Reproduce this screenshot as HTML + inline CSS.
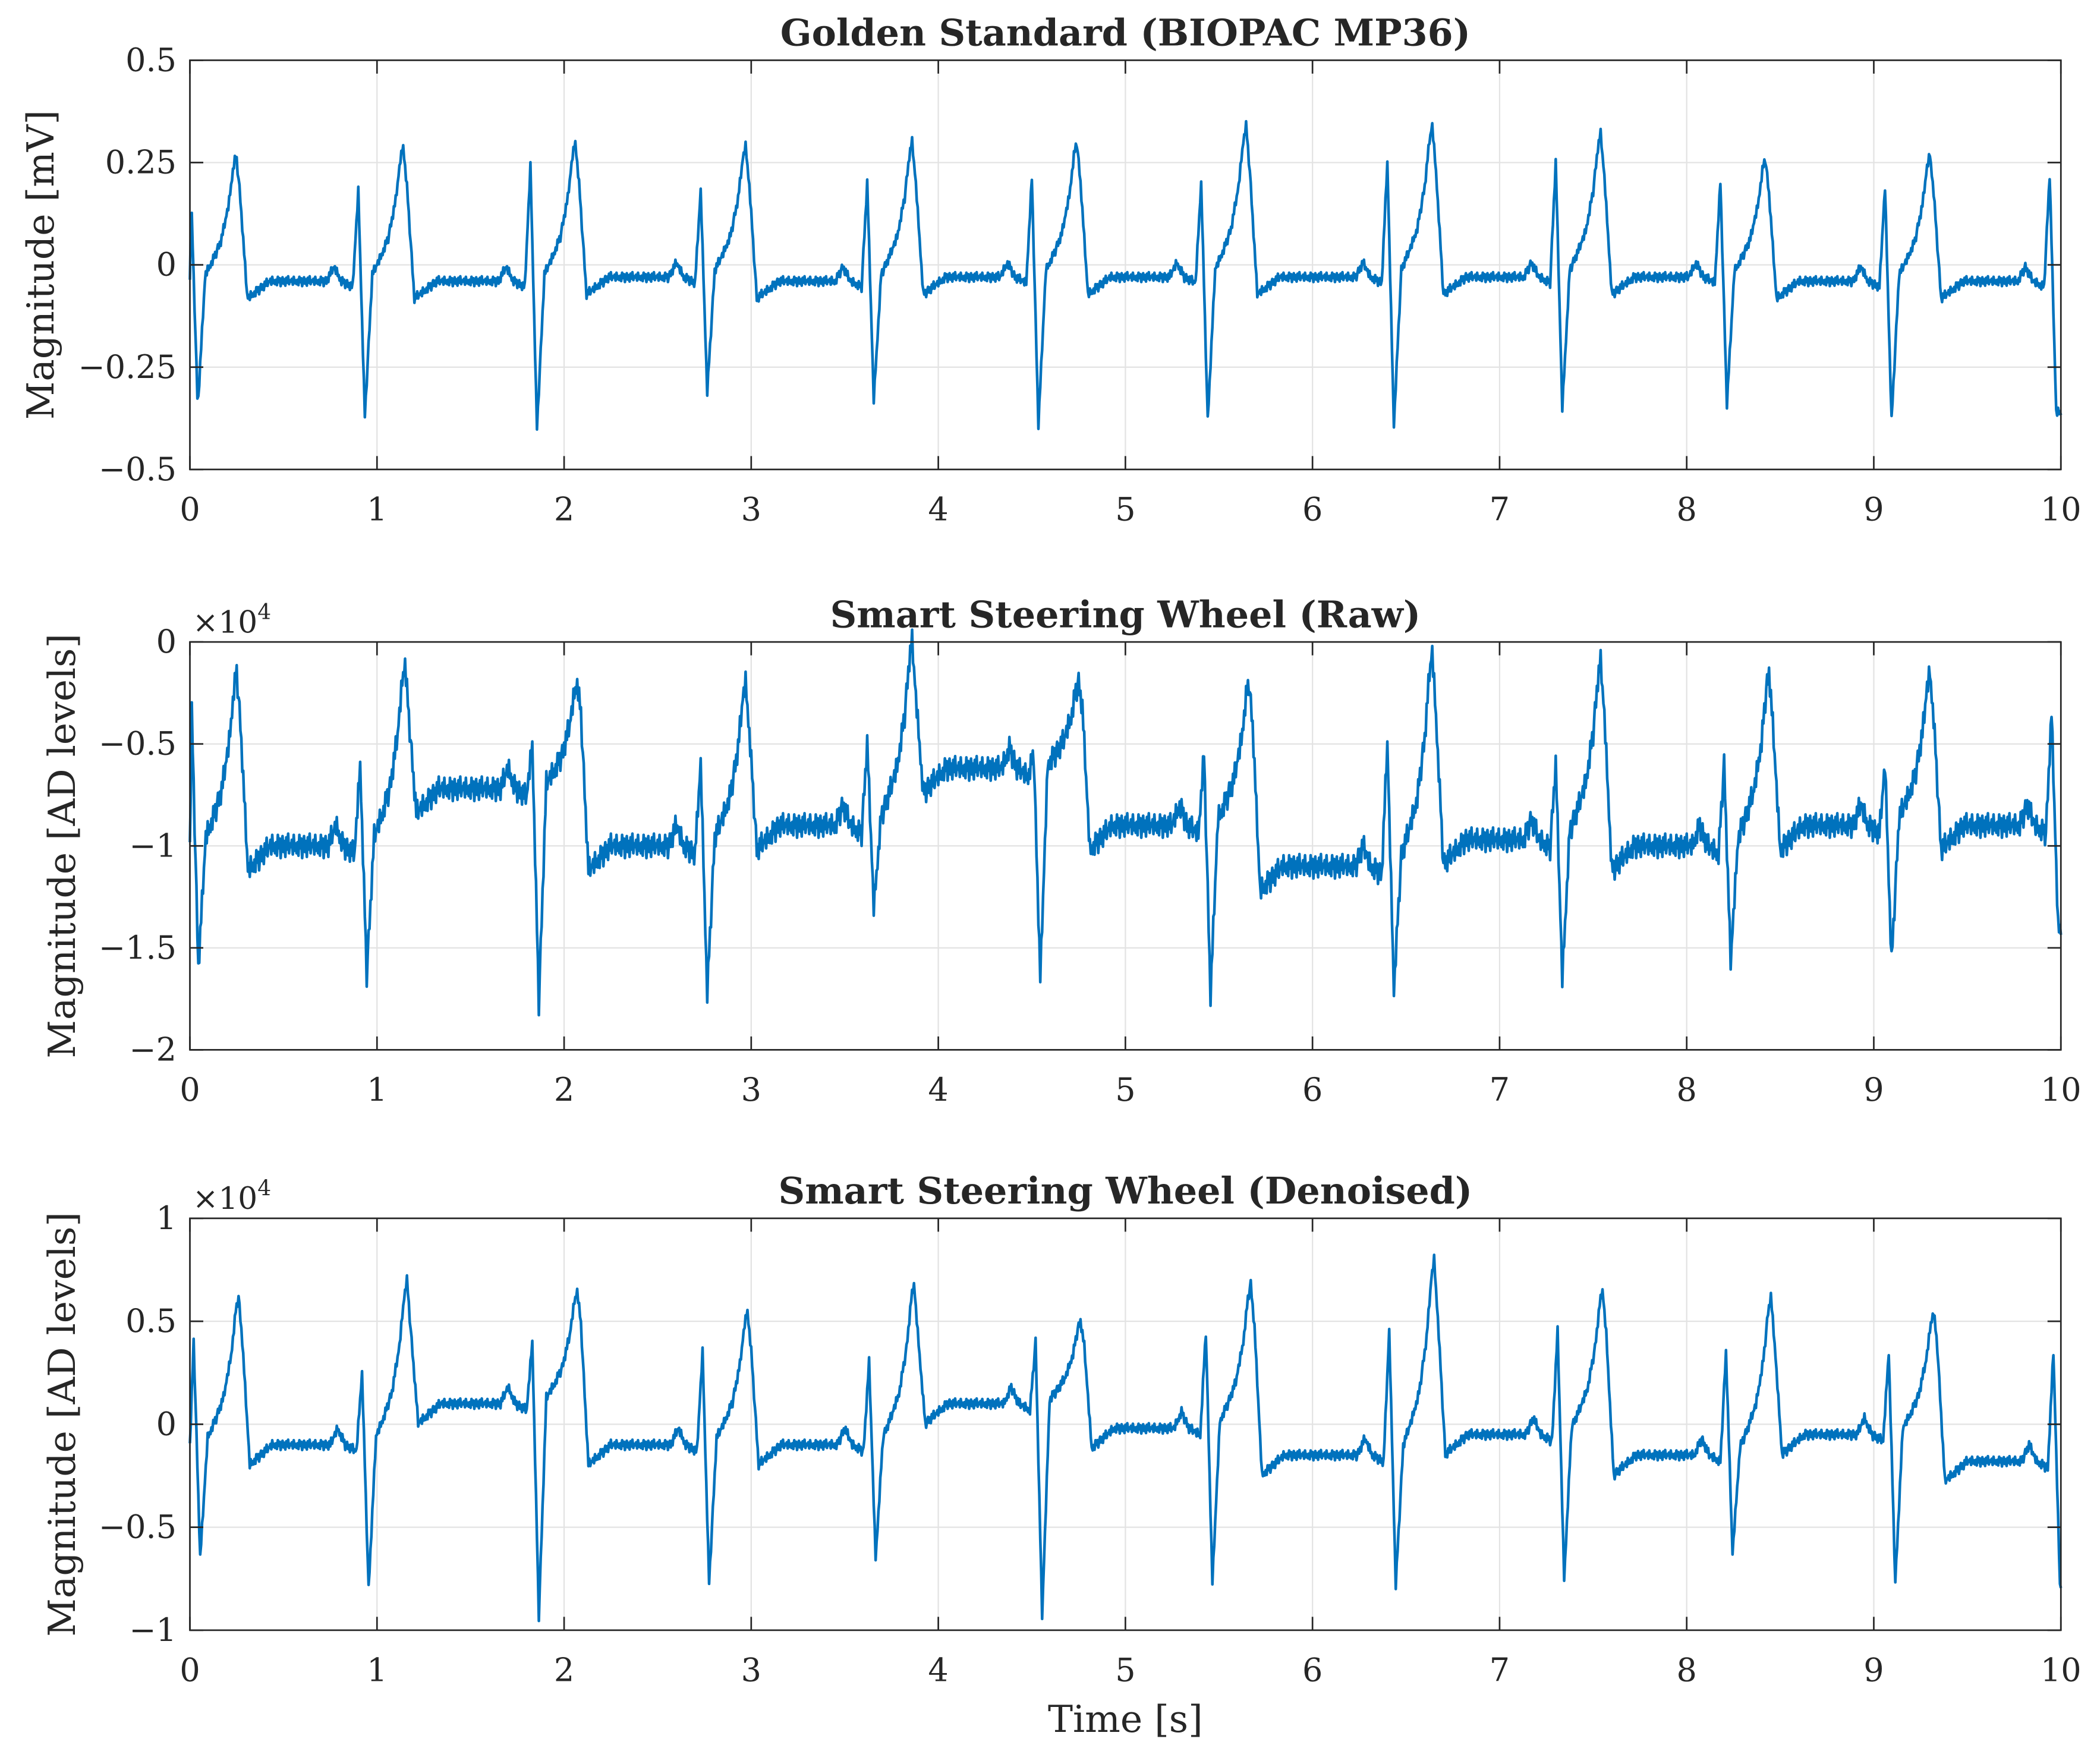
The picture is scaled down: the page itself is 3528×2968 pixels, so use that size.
<!DOCTYPE html>
<html><head><meta charset="utf-8"><style>
html,body{margin:0;padding:0;background:#fff}
svg{display:block}
text{font-family:"DejaVu Serif","Liberation Serif",serif;fill:#262626}
</style></head><body>
<svg id="chart" width="3528" height="2968" viewBox="0 0 1568 1319" xmlns="http://www.w3.org/2000/svg">
<rect width="1568" height="1319" fill="#fff"/>
</svg>
<script>
// ---- Data (beat parameters) ----
const xTicks = [0,1,2,3,4,5,6,7,8,9,10];
// Panel 1: Golden Standard (mV)
const p1Ticks = [0.5,0.25,0,-0.25,-0.5];
const p1TickLabels = ["0.5","0.25","0","\u22120.25","\u22120.5"];
const p1RTimes = [0.007,0.90,1.82,2.73,3.62,4.50,5.405,6.40,7.30,8.18,9.06,9.94];
const p1R = [0.16,0.18,0.24,0.18,0.20,0.21,0.20,0.25,0.25,0.20,0.19,0.22];
const p1S = [-0.35,-0.37,-0.40,-0.31,-0.33,-0.39,-0.38,-0.39,-0.35,-0.34,-0.38,-0.36];
const p1T = [0.27,0.29,0.30,0.29,0.30,0.30,0.34,0.34,0.32,0.26,0.27,0.10];
const p1Base = [-0.04,-0.04,-0.03,-0.04,-0.03,-0.03,-0.03,-0.03,-0.03,-0.04,-0.04,-0.03];
// Panel 2: Raw (x1e4 AD levels)
const p2Ticks = [0,-0.5,-1,-1.5,-2];
const p2TickLabels = ["0","\u22120.5","\u22121","\u22121.5","\u22122"];
const p2RTimes = [0.01,0.91,1.83,2.73,3.62,4.51,5.42,6.40,7.30,8.20,9.06,9.95];
const p2R = [-0.35,-0.6,-0.5,-0.6,-0.5,-0.55,-0.55,-0.5,-0.6,-0.6,-0.6,-0.35];
const p2S = [-1.6,-1.63,-1.77,-1.72,-1.3,-1.65,-1.73,-1.7,-1.65,-1.57,-1.57,-1.4];
const p2T = [-0.15,-0.1,-0.2,-0.2,0.0,-0.2,-0.2,-0.05,-0.1,-0.15,-0.15,-0.6];
const p2Base = [-1.0,-0.72,-1.0,-0.9,-0.62,-0.9,-1.1,-0.97,-1.0,-0.9,-0.9,-0.9];
// Panel 3: Denoised (x1e4 AD levels)
const p3Ticks = [1,0.5,0,-0.5,-1];
const p3TickLabels = ["1","0.5","0","\u22120.5","\u22121"];
const p3RTimes = [0.02,0.92,1.83,2.74,3.63,4.52,5.43,6.41,7.31,8.21,9.08,9.96];
const p3R = [0.4,0.25,0.4,0.35,0.3,0.4,0.45,0.45,0.45,0.35,0.35,0.35];
const p3S = [-0.65,-0.8,-0.93,-0.77,-0.65,-0.93,-0.77,-0.78,-0.75,-0.63,-0.77,-0.78];
const p3T = [0.62,0.7,0.65,0.55,0.68,0.5,0.68,0.8,0.65,0.62,0.55,0.1];
const p3Base = [-0.1,0.1,-0.1,-0.1,0.1,-0.02,-0.15,-0.05,-0.15,-0.05,-0.18,-0.2];
// fixed jitter texture (noise look)
const jitter = [0.3,-0.8,0.9,-0.2,0.6,-1,0.1,0.8,-0.5,0.4,-0.9,0.7,-0.3,1,-0.6,0.2,-0.1,0.5,-0.7,0.9,-0.4,0.2,-0.6];

const svg = document.getElementById('chart');
const NS = 'http://www.w3.org/2000/svg';
function mk(tag, attrs){const e=document.createElementNS(NS,tag);for(const k in attrs)e.setAttribute(k,attrs[k]);svg.appendChild(e);return e;}

const X0=142, X1=1541;
const xs = t => X0 + (t/10)*(X1-X0);

function buildSignal(rt, R, S, T, B, pAmp){
  const pts=[];
  const n=rt.length;
  pts.push([0, B[0]]);
  for(let i=0;i<n;i++){
    const t=rt[i], pre = i>0?B[i-1]:B[0], post=B[i];
    const sc = (T[i]-pre);
    if(i>0){
      pts.push([t-0.17,pre]); pts.push([t-0.13,pre+pAmp]); pts.push([t-0.09,pre]);
      pts.push([t-0.03,pre-pAmp*0.4]);
    }
    pts.push([t,R[i]]);
    pts.push([t+0.035,S[i]]);
    pts.push([t+0.075,pre+sc*0.05]);
    pts.push([t+0.12,pre+sc*0.18]);
    pts.push([t+0.16,pre+sc*0.32]);
    pts.push([t+0.20,pre+sc*0.6]);
    pts.push([t+0.225,pre+sc*0.9]);
    pts.push([t+0.24,T[i]]);
    pts.push([t+0.26,pre+sc*0.7]);
    pts.push([t+0.30,post-pAmp*1.2]);
    pts.push([t+0.42,post]);
  }
  return pts.filter(p=>p[0]>=0 && p[0]<=10).sort((a,b)=>a[0]-b[0]);
}
function resample(pts, dt, noise){
  const out=[]; let j=0, k=0;
  for(let t=0;t<=10.0001;t+=dt){
    while(j<pts.length-2 && pts[j+1][0]<t) j++;
    const a=pts[j], b=pts[Math.min(j+1,pts.length-1)];
    const f = b[0]>a[0]?Math.min(1,Math.max(0,(t-a[0])/(b[0]-a[0]))):0;
    out.push([t, a[1]+(b[1]-a[1])*f + noise*jitter[k%jitter.length]]); k++;
  }
  return out;
}

function panel(cfg){
  const {top,bot,ymax,ymin,ticks,labels,title,ylabel,exp,rt,R,S,T,B,pAmp,noise,name}=cfg;
  const ys = v => top + (ymax-v)/(ymax-ymin)*(bot-top);
  xTicks.forEach(v=>{const l=mk('line',{x1:xs(v),x2:xs(v),y1:top,y2:bot,stroke:'#e3e3e3','stroke-width':1});
     });
  ticks.forEach(v=>{const l=mk('line',{x1:X0,x2:X1,y1:ys(v),y2:ys(v),stroke:'#e3e3e3','stroke-width':1});
     });
  const pts = resample(buildSignal(rt,R,S,T,B,pAmp), 0.005, noise);
  const d = pts.map((p,i)=>(i?'L':'M')+xs(p[0]).toFixed(2)+' '+ys(p[1]).toFixed(2)).join(' ');
  const path = mk('path',{d,fill:'none',stroke:'#0072BD','stroke-width':2,'stroke-linejoin':'round'});
  
  
  const box = mk('rect',{x:X0,y:top,width:X1-X0,height:bot-top,fill:'none',stroke:'#262626','stroke-width':1.2});
  
  
  xTicks.forEach(v=>{
    mk('line',{x1:xs(v),x2:xs(v),y1:bot,y2:bot-10,stroke:'#262626','stroke-width':1.2});
    mk('line',{x1:xs(v),x2:xs(v),y1:top,y2:top+10,stroke:'#262626','stroke-width':1.2});
    const tx = mk('text',{x:xs(v),y:bot+38,'font-size':24,'text-anchor':'middle'}); tx.textContent=v;
    
    
  });
  ticks.forEach((v,i)=>{
    mk('line',{x1:X0,x2:X0+10,y1:ys(v),y2:ys(v),stroke:'#262626','stroke-width':1.2});
    mk('line',{x1:X1,x2:X1-10,y1:ys(v),y2:ys(v),stroke:'#262626','stroke-width':1.2});
    const tx = mk('text',{x:X0-10,y:ys(v)+8,'font-size':24,'text-anchor':'end'}); tx.textContent=labels[i];
    
    
  });
  const ti = mk('text',{x:(X0+X1)/2,y:top-11,'font-size':27.5,'font-weight':'bold','text-anchor':'middle',fill:'#000'}); ti.textContent=title;
  
  
  const yl = mk('text',{x:cfg.ylx,y:(top+bot)/2,'font-size':28,'text-anchor':'middle',transform:`rotate(-90 ${cfg.ylx} ${(top+bot)/2})`}); yl.textContent=ylabel;
  
  
  if(exp){
    const ex = mk('text',{x:144,y:top-7,'font-size':23});
    ex.innerHTML='\u00d710<tspan dy="-10" font-size="16">4</tspan>';
    
    
  }
}

panel({name:'golden-standard',top:45,bot:351,ymax:0.5,ymin:-0.5,ticks:p1Ticks,labels:p1TickLabels,title:'Golden Standard (BIOPAC MP36)',ylabel:'Magnitude [mV]',exp:false,rt:p1RTimes,R:p1R,S:p1S,T:p1T,B:p1Base,pAmp:0.035,noise:0.012,ylx:40});
panel({name:'raw-wheel',top:480,bot:785,ymax:0,ymin:-2,ticks:p2Ticks,labels:p2TickLabels,title:'Smart Steering Wheel (Raw)',ylabel:'Magnitude [AD levels]',exp:true,rt:p2RTimes,R:p2R,S:p2S,T:p2T,B:p2Base,pAmp:0.1,noise:0.06,ylx:56});
panel({name:'denoised-wheel',top:911,bot:1219,ymax:1,ymin:-1,ticks:p3Ticks,labels:p3TickLabels,title:'Smart Steering Wheel (Denoised)',ylabel:'Magnitude [AD levels]',exp:true,rt:p3RTimes,R:p3R,S:p3S,T:p3T,B:p3Base,pAmp:0.08,noise:0.025,ylx:56});

const xl = mk('text',{x:(X0+X1)/2,y:1295,'font-size':28,'text-anchor':'middle'});
xl.textContent='Time [s]';


</script>
</body></html>
